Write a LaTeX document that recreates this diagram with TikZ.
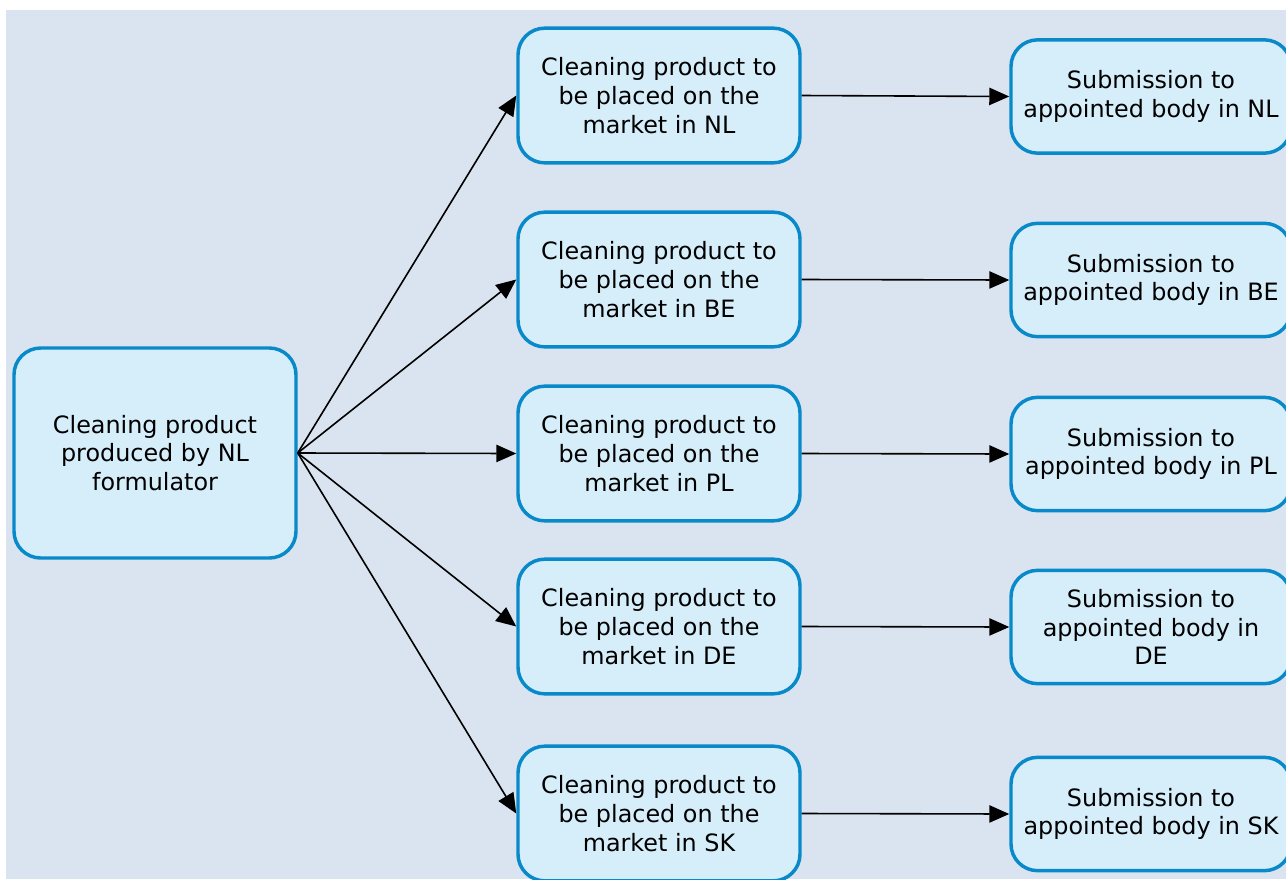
\documentclass[tikz,border=0pt]{standalone}
\usepackage{fontspec}
\setmainfont{DejaVu Sans}
\usetikzlibrary{arrows.meta}
\definecolor{bgc}{HTML}{DAE4F0}
\definecolor{boxfill}{HTML}{D6EEFA}
\definecolor{boxline}{HTML}{0889C9}
\tikzset{
  box/.style={draw=boxline, fill=boxfill, line width=2.6pt, rounded corners=20pt,
    align=center, inner sep=0pt, font=\fontsize{17.9}{21.5}\selectfont, text=black},
  mid/.style={box, minimum width=211.5pt, minimum height=101pt},
  right/.style={box, minimum width=210pt, minimum height=85pt},
  conn/.style={-{Triangle[length=15pt,width=13pt]}, line width=1.2pt, black}
}
\begin{document}
\begin{tikzpicture}[x=0.75pt,y=-0.75pt]
\useasboundingbox (0,0) rectangle (1286,879);
\clip (0,0) rectangle (1286,879);
\fill[white] (0,0) rectangle (1286,879);
\fill[bgc] (6,10) rectangle (1286,879);
\node[box, minimum width=211.5pt, minimum height=157.5pt] (src) at (155,453) {Cleaning product\\produced by NL\\formulator};
\node[mid] (mNL) at (659,95.5) {Cleaning product to\\be placed on the\\market in NL};
\node[mid] (mBE) at (659,279.5) {Cleaning product to\\be placed on the\\market in BE};
\node[mid] (mPL) at (659,453.5) {Cleaning product to\\be placed on the\\market in PL};
\node[mid] (mDE) at (659,626.5) {Cleaning product to\\be placed on the\\market in DE};
\node[mid] (mSK) at (659,813.5) {Cleaning product to\\be placed on the\\market in SK};
\node[right] (rNL) at (1151,96.5) {Submission to\\appointed body in NL};
\node[right] (rBE) at (1151,280) {Submission to\\appointed body in BE};
\node[right] (rPL) at (1151,454) {Submission to\\appointed body in PL};
\node[right] (rDE) at (1151,627) {Submission to\\appointed body in\\DE};
\node[right] (rSK) at (1151,814) {Submission to\\appointed body in SK};
\coordinate (o) at (src.east);
\foreach \n in {NL,BE,PL,DE,SK}{
  \draw[conn] (o) -- (m\n.west);
  \draw[conn] (m\n.east) -- (r\n.west);
}
\end{tikzpicture}
\end{document}
